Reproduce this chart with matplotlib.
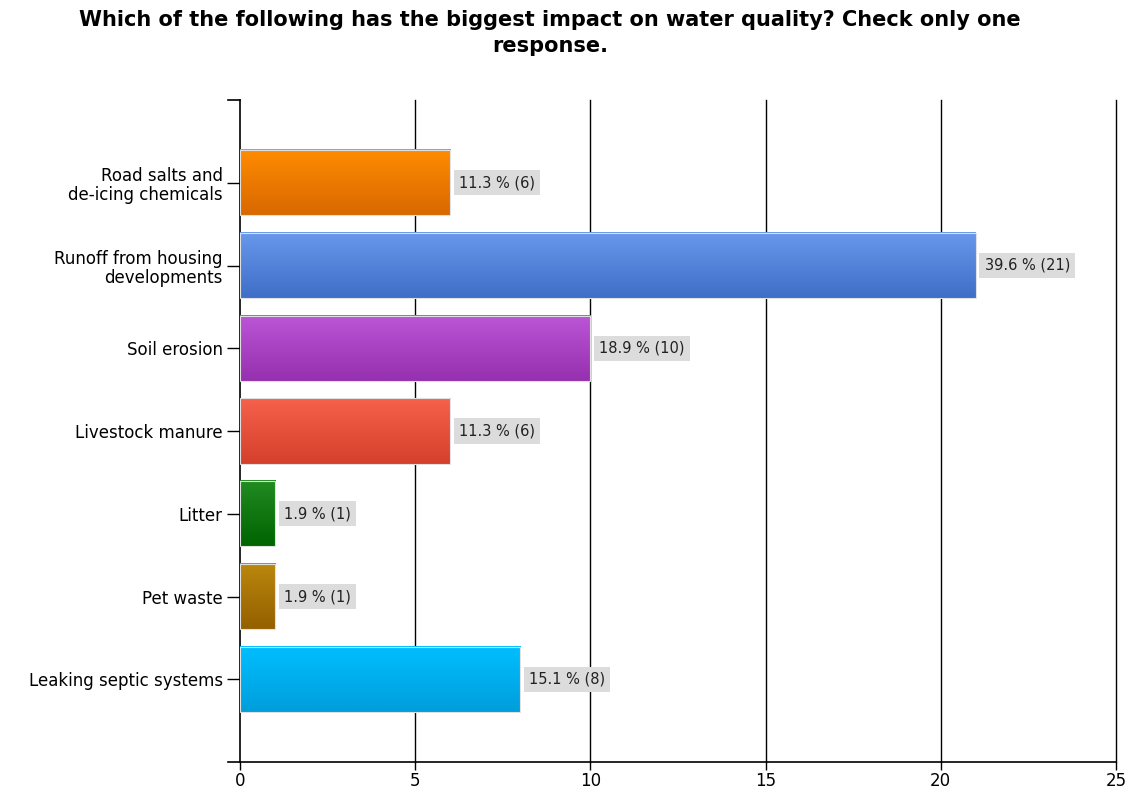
import numpy as np
import matplotlib
matplotlib.use("Agg")
import matplotlib.pyplot as plt
from matplotlib.colors import LinearSegmentedColormap

categories = [
    "Road salts and\nde-icing chemicals",
    "Runoff from housing\ndevelopments",
    "Soil erosion",
    "Livestock manure",
    "Litter",
    "Pet waste",
    "Leaking septic systems",
]
counts = [6, 21, 10, 6, 1, 1, 8]
percents = [11.3, 39.6, 18.9, 11.3, 1.9, 1.9, 15.1]
# (top colour, bottom colour) for the gradient of each bar
bar_colors = [
    ("#FF8C00", "#D96800"),
    ("#6898EC", "#3F6EC8"),
    ("#BC55D6", "#9530AE"),
    ("#F5614A", "#D5402C"),
    ("#228B22", "#006400"),
    ("#BA870E", "#946000"),
    ("#00BEFF", "#009EDB"),
]
x_ticks = [0, 5, 10, 15, 20, 25]
title = "Which of the following has the biggest impact on water quality? Check only one\nresponse."

plt.rcParams['font.family'] = ['DejaVu Sans']

fig = plt.figure(figsize=(11.29, 7.9), dpi=100)
ax = fig.add_axes([240 / 1129, 1 - 762 / 790, (1116 - 240) / 1129, (762 - 100) / 790])

bar_h = 0.79
for i, (cnt, pct, (c_top, c_bot)) in enumerate(zip(counts, percents, bar_colors)):
    cmap = LinearSegmentedColormap.from_list(f"g{i}", [c_top, c_bot])
    grad = np.linspace(0, 1, 64).reshape(-1, 1)
    # image rows run top -> bottom because y axis is inverted
    ax.imshow(grad, cmap=cmap, aspect="auto", interpolation="bilinear",
              extent=(0, cnt, i + bar_h / 2, i - bar_h / 2), zorder=3)
    ax.add_patch(plt.Rectangle((0, i - bar_h / 2), cnt, bar_h, fill=False,
                               edgecolor="#E0E0E0", linewidth=0.8, zorder=4))
    ax.text(cnt + 0.25, i, f"{pct} % ({cnt})", va="center", ha="left",
            fontsize=10.5, color="#222222", zorder=5,
            bbox=dict(boxstyle="square,pad=0.35", facecolor="#DCDCDC", edgecolor="none"))

ax.set_xlim(0, 25)
ax.set_ylim(len(categories), -1)
ax.set_xticks(x_ticks)
ax.set_xticklabels([str(t) for t in x_ticks], fontsize=12)
ax.set_yticks(range(len(categories)))
ax.set_yticklabels(categories, fontsize=12, linespacing=1.1)
ax.tick_params(axis="both", direction="out", width=1, color="black")
ax.tick_params(axis="y", length=9.5, pad=3)
ax.tick_params(axis="x", length=6, pad=1)

for t in x_ticks[1:]:
    ax.axvline(t, color="black", linewidth=1, zorder=1, clip_on=False)

ax.spines["top"].set_visible(False)
ax.spines["right"].set_visible(False)
ax.spines["left"].set_linewidth(1.2)
ax.spines["bottom"].set_linewidth(1.2)

# small stubs: top of the y axis and the left end of the x axis
ax.plot([-12 / 876, 0], [1, 1], transform=ax.transAxes, color="black",
        linewidth=1.2, clip_on=False)
ax.plot([-12 / 876, 0], [0, 0], transform=ax.transAxes, color="black",
        linewidth=1.2, clip_on=False)

fig.text(550 / 1129, 1 - 33 / 790, title, ha="center", va="center",
         fontsize=15, fontweight="bold", linespacing=1.35)

fig.savefig("out.png", dpi=100)
